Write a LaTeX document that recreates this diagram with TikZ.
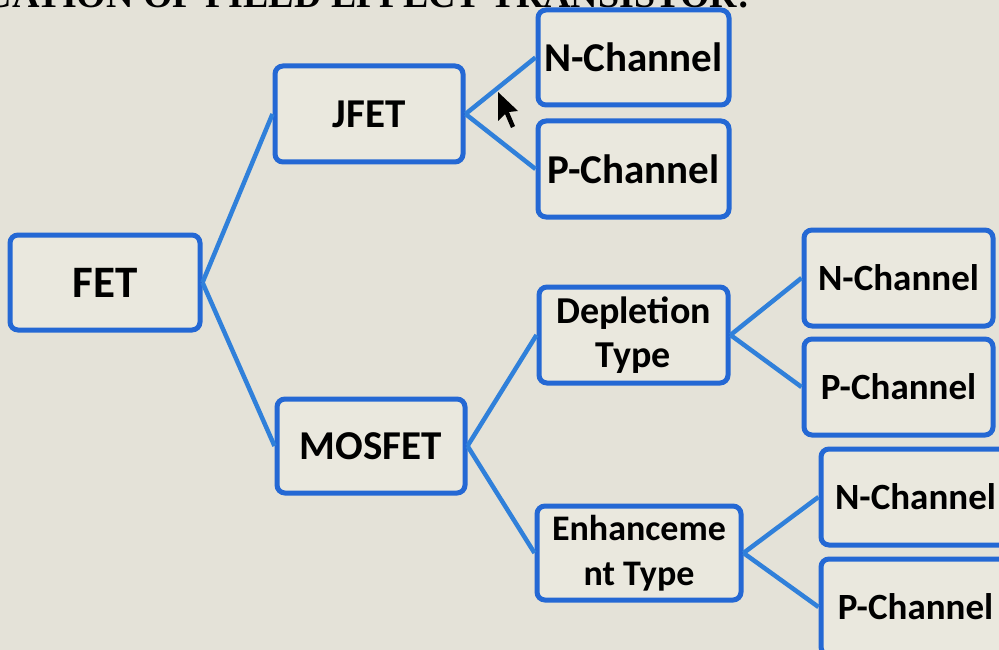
\documentclass[tikz,border=0pt]{standalone}
\usepackage{fontspec}
\setmainfont{Carlito}
\newfontfamily\titlefont{Liberation Serif}
\definecolor{bg}{RGB}{228,226,216}
\definecolor{boxfill}{RGB}{234,232,222}
\definecolor{boxblue}{RGB}{36,104,212}
\definecolor{linkblue}{RGB}{48,128,218}
\begin{document}
\begin{tikzpicture}[x=1pt,y=-1pt,
  box/.style={draw=boxblue, line width=5pt, rounded corners=8pt, fill=boxfill,
    inner sep=0pt, minimum width=190pt, minimum height=95pt, text=black,
    font=\bfseries\fontsize{41}{44}\selectfont, align=center},
  rbox/.style={box, font=\bfseries\fontsize{37}{44}\selectfont},
  link/.style={draw=linkblue, line width=4.5pt}]
\useasboundingbox (0,0) rectangle (999,650);
\clip (0,0) rectangle (999,650);
\fill[bg] (0,0) rectangle (999,650);
% cut-off title
\node[anchor=base east, inner sep=0pt, font=\titlefont\bfseries\fontsize{38}{40}\selectfont]
  (title) at (750,8) {CLASSIFICATION OF FIELD EFFECT TRANSISTOR:};
% nodes
\node[box, font=\bfseries\fontsize{45}{48}\selectfont] (fet) at (105,282.5) {FET};
\node[box, minimum width=188pt, minimum height=96pt] (jfet) at (369,114) {JFET};
\node[box, minimum width=191pt] (n1) at (633.5,57.5) {N-Channel};
\node[box, minimum width=191pt, minimum height=96pt] (p1) at (633.5,169) {P-Channel};
\node[box, minimum width=188pt, minimum height=94pt] (mos) at (371,446) {MOSFET};
\node[box, minimum width=189pt, minimum height=96pt, font=\bfseries\fontsize{38}{44}\selectfont] (dep) at (633.5,335) {Depletion\\Type};
\node[box, minimum width=204pt, minimum height=94pt, font=\bfseries\fontsize{36}{45}\selectfont] (enh) at (639,553) {Enhanceme\\nt Type};
\node[rbox, minimum width=189pt, minimum height=96pt] (n2) at (898.5,278) {N-Channel};
\node[rbox, minimum width=189pt, minimum height=96pt] (p2) at (898.5,387) {P-Channel};
\node[rbox, minimum width=189pt, minimum height=96pt, text width=189pt] (n3) at (915.5,497) {N-Channel};
\node[rbox, minimum width=189pt, minimum height=96pt, text width=189pt] (p3) at (915.5,607) {P-Channel\\[-12pt]};
% connectors
\draw[link] (fet.east) -- (jfet.west);
\draw[link] (fet.east) -- (mos.west);
\draw[link] (jfet.east) -- (n1.west);
\draw[link] (jfet.east) -- (p1.west);
\draw[link] (mos.east) -- (dep.west);
\draw[link] (mos.east) -- (enh.west);
\draw[link] (dep.east) -- (n2.west);
\draw[link] (dep.east) -- (p2.west);
\draw[link] (enh.east) -- (n3.west);
\draw[link] (enh.east) -- (p3.west);
% mouse pointer
\fill[black] (498,92) -- (498,121) -- (505,114) -- (511,128) -- (515,126) -- (509,112) -- (518,111) -- cycle;
\end{tikzpicture}
\end{document}
